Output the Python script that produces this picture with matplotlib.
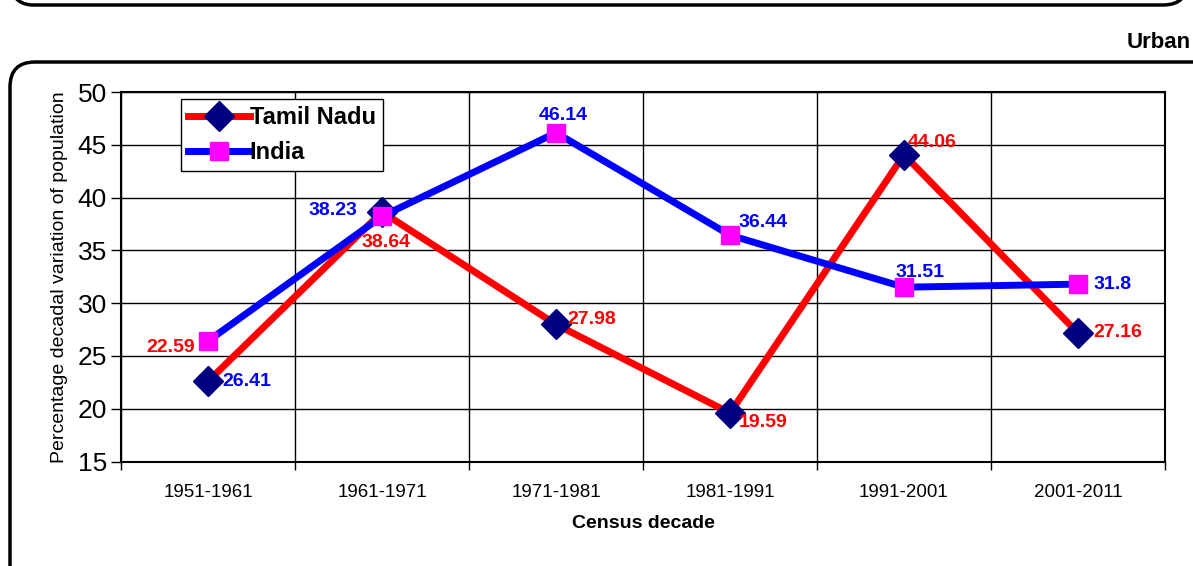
import matplotlib
matplotlib.use("Agg")
import matplotlib.pyplot as plt
from matplotlib.patches import FancyBboxPatch
from matplotlib.transforms import IdentityTransform

plt.rcParams['font.family'] = ['Liberation Sans', 'DejaVu Sans']

decades = ['1951-1961', '1961-1971', '1971-1981', '1981-1991', '1991-2001', '2001-2011']
tamil_nadu = [22.59, 38.64, 27.98, 19.59, 44.06, 27.16]
india = [26.41, 38.23, 46.14, 36.44, 31.51, 31.8]

# label text / colour / offset (pixels) / alignment, as placed in the original
tn_label_pos = [(14, 0, 'left'), (-20, -31, 'left'), (11, 5, 'left'),
                (9, -9, 'left'), (4, 12, 'left'), (15, 1, 'left')]
in_label_pos = [(-13, -6, 'right'), (-25, 6, 'right'), (7, 17, 'center'),
                (9, 13, 'left'), (16, 15, 'center'), (16, 0, 'left')]
# the first point's labels are swapped in the source chart
tn_label_text = ['26.41', '38.64', '27.98', '19.59', '44.06', '27.16']
tn_label_col = ['blue', 'red', 'red', 'red', 'red', 'red']
in_label_text = ['22.59', '38.23', '46.14', '36.44', '31.51', '31.8']
in_label_col = ['red', 'blue', 'blue', 'blue', 'blue', 'blue']

fig = plt.figure(figsize=(11.93, 5.66), dpi=100)
ax = fig.add_axes([121 / 1193, 1 - 461.5 / 566, 1044 / 1193, 369.5 / 566])

x = list(range(len(decades)))
ax.plot(x, tamil_nadu, color='red', lw=5, marker='D', ms=15,
        mfc='#000080', mec='#000080', label='Tamil Nadu', zorder=3)
ax.plot(x, india, color='blue', lw=5, marker='s', ms=12.5,
        mfc='magenta', mec='magenta', label='India', zorder=4)

for i in x:
    dx, dy, ha = tn_label_pos[i]
    ax.annotate(tn_label_text[i], (i, tamil_nadu[i]), xytext=(dx, dy),
                textcoords='offset pixels', ha=ha, va='center',
                color=tn_label_col[i], fontsize=14, fontweight='bold', zorder=5)
    dx, dy, ha = in_label_pos[i]
    ax.annotate(in_label_text[i], (i, india[i]), xytext=(dx, dy),
                textcoords='offset pixels', ha=ha, va='center',
                color=in_label_col[i], fontsize=14, fontweight='bold', zorder=5)

ax.set_xlim(-0.5, len(decades) - 0.5)
ax.set_ylim(15, 50)
ax.set_yticks(range(15, 51, 5))
ax.set_xticks([i - 0.5 for i in range(len(decades) + 1)])
ax.set_xticklabels([])
ax.set_xticks(x, minor=True)
ax.set_xticklabels(decades, minor=True, fontsize=13.5)
ax.tick_params(axis='x', which='minor', length=0, pad=16)
ax.tick_params(axis='x', which='major', length=6, width=1)
ax.tick_params(axis='y', labelsize=19, length=7, width=1, pad=3)
ax.grid(True, which='major', color='black', lw=1)
ax.set_axisbelow(True)
for s in ax.spines.values():
    s.set_linewidth(1.5)

ax.set_xlabel('Census decade', fontsize=14, fontweight='bold', labelpad=10)
ax.set_ylabel('Percentage decadal variation of population', fontsize=14, labelpad=7)

leg = ax.legend(loc='upper left', bbox_to_anchor=(0.0575, 0.981), fancybox=False,
                edgecolor='black', framealpha=1, prop={'size': 17, 'weight': 'bold'},
                handlelength=2.6, handletextpad=0.0, borderpad=0.3, labelspacing=0.5,
                borderaxespad=0)
leg.get_frame().set_linewidth(1)

# rounded frames around the chart area
fig.patches.append(FancyBboxPatch((10, -30), 1220, 534, boxstyle='round,pad=0,rounding_size=25',
                                  transform=IdentityTransform(), fill=False, ec='black', lw=2.5))
fig.patches.append(FancyBboxPatch((8, 561), 1180, 60, boxstyle='round,pad=0,rounding_size=25',
                                  transform=IdentityTransform(), fill=False, ec='black', lw=2.5))
fig.text(1127 / 1193, 1 - 42 / 566, 'Urban', fontsize=16, fontweight='bold', ha='left', va='center')

fig.savefig('out.png', dpi=100)
